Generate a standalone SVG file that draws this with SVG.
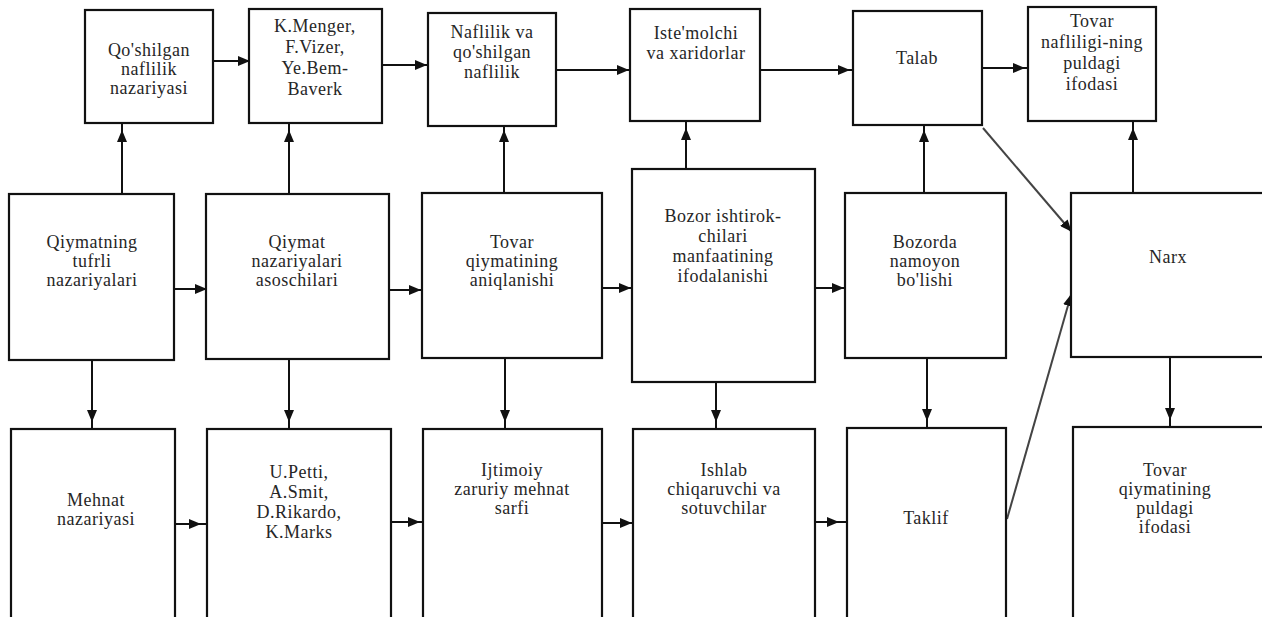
<svg xmlns="http://www.w3.org/2000/svg" width="1262" height="617" viewBox="0 0 1262 617">
<style>
.b{fill:#fff;stroke:#111;stroke-width:2.2}
.t{font-family:"Liberation Serif","Times New Roman",serif;font-size:18px;letter-spacing:0.5px;fill:#262626;text-anchor:middle}
.c{fill:none;stroke:#111;stroke-width:2}
.d{fill:none;stroke:#444;stroke-width:2}
</style>
<defs>
<marker id="ah" markerUnits="userSpaceOnUse" markerWidth="12" markerHeight="10" refX="11" refY="5" orient="auto" viewBox="0 0 12 10">
<path d="M0,0 L12,5 L0,10 z" fill="#111"/>
</marker>
</defs>
<rect width="1262" height="617" fill="#fff"/>
<g id="connectors">
<path class="c" d="M213,61 H249" marker-end="url(#ah)"/>
<path class="c" d="M382,65 H426 H428" marker-mid="url(#ah)"/>
<path class="c" d="M556,70 H628 H630" marker-mid="url(#ah)"/>
<path class="c" d="M760,70 H849 H853" marker-mid="url(#ah)"/>
<path class="c" d="M982,68 H1024 H1028" marker-mid="url(#ah)"/>
<path class="c" d="M122,194 V131 V123" marker-mid="url(#ah)"/>
<path class="c" d="M289,194 V131 V123" marker-mid="url(#ah)"/>
<path class="c" d="M504,193 V131 V126" marker-mid="url(#ah)"/>
<path class="c" d="M686,169 V129 V121" marker-mid="url(#ah)"/>
<path class="c" d="M924,193 V131 V125" marker-mid="url(#ah)"/>
<path class="c" d="M1133,193 V129 V121" marker-mid="url(#ah)"/>
<path class="c" d="M174,289 H206" marker-end="url(#ah)"/>
<path class="c" d="M389,290 H420 H422" marker-mid="url(#ah)"/>
<path class="c" d="M602,288 H630 H632" marker-mid="url(#ah)"/>
<path class="c" d="M815,288 H843 H845" marker-mid="url(#ah)"/>
<path class="d" d="M983,128 L1071,231" marker-end="url(#ah)"/>
<path class="d" d="M1007,519 L1071,295" marker-end="url(#ah)"/>
<path class="c" d="M92,360 V421 V429" marker-mid="url(#ah)"/>
<path class="c" d="M289,359 V421 V429" marker-mid="url(#ah)"/>
<path class="c" d="M505,358 V421 V429" marker-mid="url(#ah)"/>
<path class="c" d="M716,382 V421 V429" marker-mid="url(#ah)"/>
<path class="c" d="M927,358 V420 V428" marker-mid="url(#ah)"/>
<path class="c" d="M1170,357 V419 V427" marker-mid="url(#ah)"/>
<path class="c" d="M175,524 H200 H207" marker-mid="url(#ah)"/>
<path class="c" d="M391,522 H419 H423" marker-mid="url(#ah)"/>
<path class="c" d="M602,523 H631 H633" marker-mid="url(#ah)"/>
<path class="c" d="M815,522 H838 H847" marker-mid="url(#ah)"/>
</g>
<g id="n1"><rect class="b" x="85" y="10" width="128" height="113"/>
<text class="t" x="149" y="56">Qo'shilgan</text><text class="t" x="149" y="75">naflilik</text><text class="t" x="149" y="94">nazariyasi</text></g>
<g id="n2"><rect class="b" x="249" y="9" width="133" height="114"/>
<text class="t" x="315" y="32">K.Menger,</text><text class="t" x="315" y="53">F.Vizer,</text><text class="t" x="315" y="74">Ye.Bem-</text><text class="t" x="315" y="95">Baverk</text></g>
<g id="n3"><rect class="b" x="428" y="13" width="128" height="113"/>
<text class="t" x="492" y="38">Naflilik va</text><text class="t" x="492" y="58">qo'shilgan</text><text class="t" x="492" y="78">naflilik</text></g>
<g id="n4"><rect class="b" x="630" y="9" width="130" height="112"/>
<text class="t" x="696" y="39">Iste'molchi</text><text class="t" x="696" y="59">va xaridorlar</text></g>
<g id="n5"><rect class="b" x="853" y="11" width="129" height="114"/>
<text class="t" x="917" y="64">Talab</text></g>
<g id="n6"><rect class="b" x="1028" y="7" width="128" height="114"/>
<text class="t" x="1092" y="27">Tovar</text><text class="t" x="1092" y="48">nafliligi-ning</text><text class="t" x="1092" y="69">puldagi</text><text class="t" x="1092" y="90">ifodasi</text></g>
<g id="n7"><rect class="b" x="9" y="194" width="165" height="166"/>
<text class="t" x="92" y="248">Qiymatning</text><text class="t" x="92" y="267">tufrli</text><text class="t" x="92" y="286">nazariyalari</text></g>
<g id="n8"><rect class="b" x="206" y="194" width="183" height="165"/>
<text class="t" x="297" y="248">Qiymat</text><text class="t" x="297" y="267">nazariyalari</text><text class="t" x="297" y="286">asoschilari</text></g>
<g id="n9"><rect class="b" x="422" y="193" width="180" height="165"/>
<text class="t" x="512" y="248">Tovar</text><text class="t" x="512" y="267">qiymatining</text><text class="t" x="512" y="286">aniqlanishi</text></g>
<g id="n10"><rect class="b" x="632" y="169" width="183" height="213"/>
<text class="t" x="723" y="222">Bozor ishtirok-</text><text class="t" x="723" y="242">chilari</text><text class="t" x="723" y="262">manfaatining</text><text class="t" x="723" y="282">ifodalanishi</text></g>
<g id="n11"><rect class="b" x="845" y="193" width="161" height="165"/>
<text class="t" x="925" y="248">Bozorda</text><text class="t" x="925" y="267">namoyon</text><text class="t" x="925" y="286">bo'lishi</text></g>
<g id="n12"><rect class="b" x="1071" y="193" width="210" height="164"/>
<text class="t" x="1168" y="263">Narx</text></g>
<g id="n13"><rect class="b" x="11" y="429" width="164" height="220"/>
<text class="t" x="96" y="506">Mehnat</text><text class="t" x="96" y="525">nazariyasi</text></g>
<g id="n14"><rect class="b" x="207" y="429" width="184" height="220"/>
<text class="t" x="299" y="478">U.Petti,</text><text class="t" x="299" y="498">A.Smit,</text><text class="t" x="299" y="518">D.Rikardo,</text><text class="t" x="299" y="538">K.Marks</text></g>
<g id="n15"><rect class="b" x="423" y="429" width="179" height="220"/>
<text class="t" x="512" y="476">Ijtimoiy</text><text class="t" x="512" y="495">zaruriy mehnat</text><text class="t" x="512" y="514">sarfi</text></g>
<g id="n16"><rect class="b" x="633" y="429" width="182" height="220"/>
<text class="t" x="724" y="476">Ishlab</text><text class="t" x="724" y="495">chiqaruvchi va</text><text class="t" x="724" y="514">sotuvchilar</text></g>
<g id="n17"><rect class="b" x="847" y="428" width="159" height="220"/>
<text class="t" x="926" y="524">Taklif</text></g>
<g id="n18"><rect class="b" x="1073" y="427" width="210" height="220"/>
<text class="t" x="1165" y="476">Tovar</text><text class="t" x="1165" y="495">qiymatining</text><text class="t" x="1165" y="514">puldagi</text><text class="t" x="1165" y="533">ifodasi</text></g>
</svg>
